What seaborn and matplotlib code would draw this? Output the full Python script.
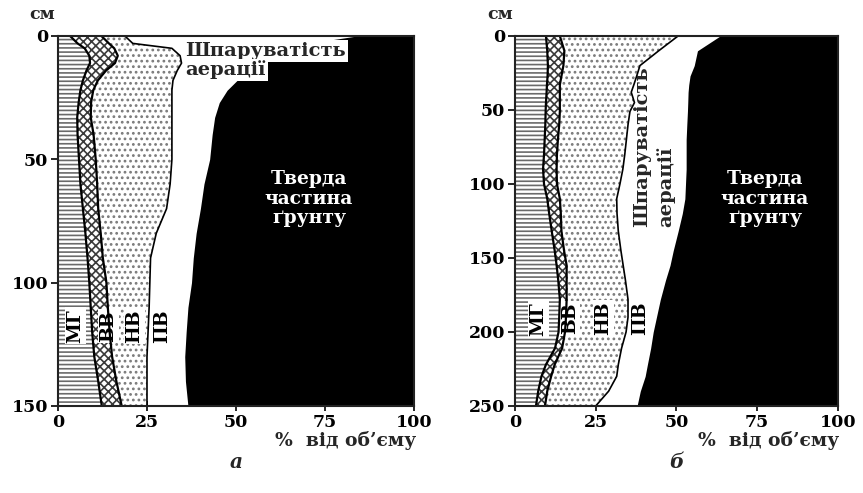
import matplotlib
matplotlib.use("Agg")
import matplotlib.pyplot as plt
import seaborn as sns

# ---- profile (а): depth, cm, and cumulative layer boundaries, % of volume ----
depth_a = [0, 3, 5, 8, 11, 14, 18, 22, 27, 33, 40, 50, 60, 70, 80, 90,
           100, 110, 120, 130, 140, 150]
mg_a = [3.4, 5.5, 7.5, 8.8, 9.0, 8.0, 7.0, 6.3, 5.8, 5.4, 5.5, 5.9, 6.3,
        7.0, 7.7, 8.3, 8.8, 9.2, 9.6, 10.2, 11.3, 12.3]
vv_a = [12.2, 14.3, 15.8, 16.8, 16.0, 13.5, 11.2, 9.9, 9.3, 9.2, 10.0, 10.6,
        11.0, 11.3, 12.0, 12.6, 13.6, 14.0, 14.5, 15.2, 16.4, 17.9]
nv_a = [18.8, 21.0, 32.0, 34.3, 34.7, 33.5, 32.3, 32.0, 32.0, 32.0, 32.0,
        32.0, 31.5, 30.5, 27.6, 26.0, 25.8, 25.6, 25.3, 25.0, 25.0, 25.0]
pv_a = [84.0, 70.0, 63.0, 58.0, 55.0, 52.5, 50.3, 47.5, 45.3, 44.0, 43.3,
        42.6, 41.0, 40.0, 38.8, 38.0, 37.5, 36.5, 36.0, 35.6, 35.8, 36.5]

# ---- profile (б) ----
depth_b = [0, 10, 20, 27, 33, 38, 45, 51, 60, 70, 80, 90, 100, 110, 120,
           132, 145, 155, 165, 178, 190, 200, 211, 222, 230, 240, 250]
mg_b = [9.6, 10.0, 10.2, 10.1, 9.9, 9.8, 9.6, 9.5, 9.4, 9.2, 9.0, 8.7, 9.0,
        10.0, 10.6, 11.4, 12.3, 12.9, 13.4, 13.9, 13.7, 13.5, 12.4, 9.6,
        8.2, 7.2, 6.5]
vv_b = [13.9, 15.3, 15.0, 14.4, 13.9, 13.9, 13.9, 13.9, 13.7, 13.3, 13.0,
        12.9, 13.0, 13.9, 14.2, 14.4, 15.2, 16.0, 16.0, 16.0, 15.8, 15.5,
        14.6, 12.3, 11.2, 10.0, 9.3]
nv_b = [50.5, 44.5, 38.7, 37.7, 36.8, 36.0, 37.0, 35.6, 35.0, 34.5, 34.0,
        33.4, 32.5, 31.5, 31.6, 32.0, 32.8, 33.5, 34.2, 35.0, 35.0, 34.4,
        33.0, 32.0, 31.5, 29.0, 25.0]
pv_b = [63.5, 56.5, 55.5, 54.2, 53.8, 53.6, 53.5, 53.4, 53.2, 53.0, 53.0,
        53.0, 52.8, 52.6, 51.8, 50.5, 49.0, 48.0, 46.6, 45.0, 43.8, 42.8,
        42.0, 41.0, 40.3, 38.8, 37.8]

zone_labels = ["МГ", "ВВ", "НВ", "ПВ"]
aeration_label = ["Шпаруватість", "аерації"]
solid_label = "Тверда\nчастина\nґрунту"
x_ticks = [0, 25, 50, 75, 100]
y_ticks_a = [0, 50, 100, 150]
y_ticks_b = [0, 50, 100, 150, 200, 250]
x_title = "%  від об’єму"
y_title = "см"
panel_names = ["а", "б"]

sns.set_theme(style="ticks")
plt.rcParams["font.family"] = ["DejaVu Serif"]
plt.rcParams["font.weight"] = "bold"
plt.rcParams["hatch.linewidth"] = 1.2
FS_TICK = 12.5
FS_CAP = 13.5
FS_AER = 14

fig = plt.figure(figsize=(8.63, 4.93), dpi=100)
ax_a = fig.add_axes([0.0672, 0.1765, 0.4125, 0.7505])
ax_b = fig.add_axes([0.5967, 0.1765, 0.3743, 0.7505])


def draw_profile(ax, depth, mg, vv, nv, pv, yticks, zone_pos, zone_depth):
    # layer fills
    ax.fill_betweenx(depth, 0, mg, facecolor="white", edgecolor="#6a6a6a",
                     hatch="----", linewidth=0, zorder=1)
    ax.fill_betweenx(depth, mg, vv, facecolor="white", edgecolor="#3a3a3a",
                     hatch="xxxx", linewidth=0, zorder=1)
    ax.fill_betweenx(depth, vv, nv, facecolor="white", edgecolor="#7a7a7a",
                     hatch="...", linewidth=0, zorder=1)
    ax.fill_betweenx(depth, pv, 100, facecolor="black", edgecolor="black",
                     linewidth=0, zorder=1)
    # layer boundaries
    for xs, lw in ((mg, 1.6), (vv, 1.6), (nv, 1.2)):
        sns.lineplot(x=xs, y=depth, orient="y", sort=False, estimator=None,
                     color="black", linewidth=lw, ax=ax, zorder=4, legend=False)
    for lab, xp in zip(zone_labels, zone_pos):
        ax.text(xp, zone_depth, lab, rotation=90, ha="center", va="center",
                fontsize=FS_CAP, color="black", zorder=3,
                bbox=dict(boxstyle="square,pad=0.08", facecolor="white",
                          edgecolor="none"))
    ax.set_xlim(0, 100)
    ax.set_ylim(max(depth), 0)
    ax.set_xticks(x_ticks)
    ax.set_yticks(yticks)
    ax.set_xlabel("")
    ax.set_ylabel("")
    ax.tick_params(axis="x", direction="inout", length=7, width=1.2,
                   labelsize=FS_TICK, pad=2, colors="black")
    ax.tick_params(axis="y", direction="out", length=5, width=1.2,
                   labelsize=FS_TICK, pad=2, colors="black")
    for s in ax.spines.values():
        s.set_visible(True)
        s.set_color("#222222")
        s.set_linewidth(1.5)
        s.set_zorder(5)
    ax.text(1.005, -0.092, x_title, transform=ax.transAxes, ha="right",
            va="center", fontsize=FS_CAP)
    ax.text(-0.045, 1.057, y_title, transform=ax.transAxes, ha="center",
            va="center", fontsize=FS_TICK)


draw_profile(ax_a, depth_a, mg_a, vv_a, nv_a, pv_a, y_ticks_a,
             [4.9, 14.1, 21.4, 29.3], 117.5)
draw_profile(ax_b, depth_b, mg_b, vv_b, nv_b, pv_b, y_ticks_b,
             [7.3, 17.0, 27.4, 38.7], 191)

# aeration porosity captions
box = dict(boxstyle="square,pad=0.1", facecolor="white", edgecolor="none")
ax_a.text(35.8, 6.0, aeration_label[0], ha="left", va="center",
          fontsize=FS_AER, zorder=6, bbox=box)
ax_a.text(35.8, 13.8, aeration_label[1], ha="left", va="center",
          fontsize=FS_AER, zorder=6, bbox=box)
ax_b.text(39.3, 129, aeration_label[0], rotation=90, ha="center", va="bottom",
          fontsize=FS_AER, zorder=6)
ax_b.text(46.6, 129, aeration_label[1], rotation=90, ha="center", va="bottom",
          fontsize=FS_AER, zorder=6)

# solid phase captions
ax_a.text(70.5, 66, solid_label, color="white", ha="center", va="center",
          fontsize=FS_CAP, linespacing=1.1, zorder=6)
ax_b.text(77.4, 110, solid_label, color="white", ha="center", va="center",
          fontsize=FS_CAP, linespacing=1.1, zorder=6)

# panel letters
for ax, name in zip((ax_a, ax_b), panel_names):
    ax.text(0.5, -0.151, name, transform=ax.transAxes, ha="center",
            va="center", fontsize=FS_CAP + 1, style="italic")

fig.savefig("out.png", dpi=100)
